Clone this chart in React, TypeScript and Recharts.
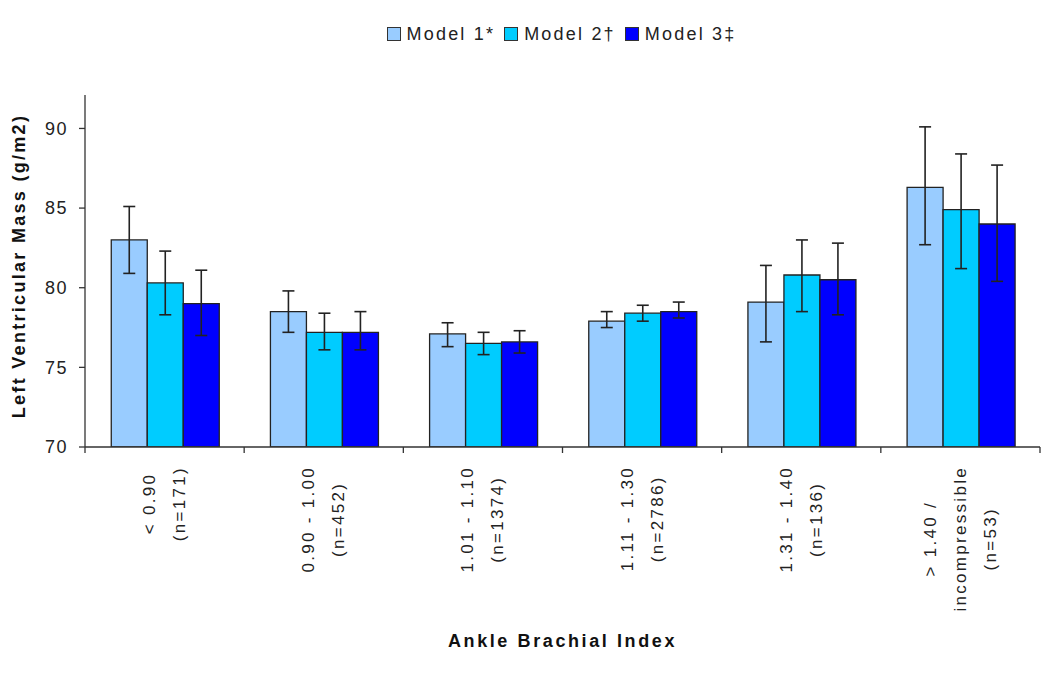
import React from 'react';
import { BarChart, Bar, XAxis, YAxis, ErrorBar, Label } from 'recharts';

// ABI groups (each line of a label on its own row)
const categories = [
  '< 0.90\n(n=171)',
  '0.90 - 1.00\n(n=452)',
  '1.01 - 1.10\n(n=1374)',
  '1.11 - 1.30\n(n=2786)',
  '1.31 - 1.40\n(n=136)',
  '> 1.40 /\nincompressible\n(n=53)',
];

const model1 = [83.0, 78.5, 77.1, 77.9, 79.1, 86.3];
const model1Low = [80.9, 77.2, 76.3, 77.5, 76.6, 82.7];
const model1High = [85.1, 79.8, 77.8, 78.5, 81.4, 90.1];

const model2 = [80.3, 77.2, 76.5, 78.4, 80.8, 84.9];
const model2Low = [78.3, 76.1, 75.8, 77.9, 78.5, 81.2];
const model2High = [82.3, 78.4, 77.2, 78.9, 83.0, 88.4];

const model3 = [79.0, 77.2, 76.6, 78.5, 80.5, 84.0];
const model3Low = [77.0, 76.1, 75.9, 78.1, 78.3, 80.4];
const model3High = [81.1, 78.5, 77.3, 79.1, 82.8, 87.7];

const yTicks = [70, 75, 80, 85, 90];

const series = [
  { key: 'm1', name: 'Model 1*', color: '#99CCFF' },
  { key: 'm2', name: 'Model 2\u2020', color: '#00CCFF' },
  { key: 'm3', name: 'Model 3\u2021', color: '#0000FF' },
];

const data = categories.map((c, i) => ({
  name: c,
  m1: model1[i],
  e1: [model1[i] - model1Low[i], model1High[i] - model1[i]],
  m2: model2[i],
  e2: [model2[i] - model2Low[i], model2High[i] - model2[i]],
  m3: model3[i],
  e3: [model3[i] - model3Low[i], model3High[i] - model3[i]],
}));

const W = 1050;
const H = 685;
const MARGIN = { top: 95, right: 10, left: 0, bottom: 0 };
const Y_W = 85;
const X_H = 238;
const PLOT_W = W - MARGIN.left - MARGIN.right - Y_W;
const BAND = PLOT_W / categories.length;

const FONT = "'Liberation Sans', Arial, sans-serif";
const TEXT = '#222';
const AXIS = '#333';

const TICK_SIZE = 17;
const TICK_LS = 2.3;

let ctx: CanvasRenderingContext2D | null = null;
function measure(s: string) {
  if (!ctx) ctx = document.createElement('canvas').getContext('2d');
  if (!ctx) return s.length * 9;
  ctx.font = `${TICK_SIZE}px ${FONT}`;
  return ctx.measureText(s).width + s.length * TICK_LS;
}

function CategoryTick(props: any) {
  const { x, y, payload, index } = props;
  const lines = String(payload.value).split('\n');
  const maxW = Math.max(...lines.map(measure));
  const yc = y + 19 + maxW / 2;
  const left = x - BAND / 2;
  return (
    <g>
      <line x1={left} y1={y} x2={left} y2={y + 6} stroke={AXIS} strokeWidth={1.3} />
      {index === categories.length - 1 && (
        <line x1={x + BAND / 2} y1={y} x2={x + BAND / 2} y2={y + 6} stroke={AXIS} strokeWidth={1.3} />
      )}
      {lines.map((l, i) => {
        const lx = x + (i - (lines.length - 1) / 2) * 30;
        return (
          <text
            key={i}
            x={lx}
            y={yc}
            transform={`rotate(-90, ${lx}, ${yc})`}
            textAnchor="middle"
            dominantBaseline="central"
            fontFamily={FONT}
            fontSize={TICK_SIZE}
            letterSpacing={TICK_LS}
            fill={TEXT}
          >
            {l}
          </text>
        );
      })}
    </g>
  );
}

function ChartLegend() {
  return (
    <div
      style={{
        position: 'absolute',
        top: 23,
        left: 0,
        width: W,
        display: 'flex',
        justifyContent: 'center',
        paddingLeft: 82,
        boxSizing: 'border-box',
        fontFamily: FONT,
        fontSize: 18,
        lineHeight: '22px',
        letterSpacing: 2.2,
        color: TEXT,
      }}
    >
      {series.map((s) => (
        <div key={s.key} style={{ display: 'flex', alignItems: 'center', marginRight: 9 }}>
          <span
            style={{
              display: 'inline-block',
              width: 12,
              height: 12,
              background: s.color,
              border: '1px solid #333',
              marginRight: 6,
            }}
          />
          <span>{s.name}</span>
        </div>
      ))}
    </div>
  );
}

export default function App() {
  return (
    <div style={{ position: 'absolute', left: 0, top: 0, width: W, height: H, background: '#fff' }}>
      <ChartLegend />
      <BarChart
        width={W}
        height={H}
        data={data}
        margin={MARGIN}
        barCategoryGap="16.5%"
        barGap={0}
      >
        <XAxis
          dataKey="name"
          height={X_H}
          interval={0}
          tickLine={false}
          tickSize={0}
          tickMargin={0}
          tick={<CategoryTick />}
          axisLine={{ stroke: AXIS, strokeWidth: 1.3 }}
        >
          <Label
            content={(p: any) => {
              const vb = p.viewBox;
              return (
                <text
                  x={vb.x + vb.width / 2}
                  y={647}
                  textAnchor="middle"
                  fontFamily={FONT}
                  fontWeight="bold"
                  fontSize={18}
                  letterSpacing={2.6}
                  fill="#111"
                >
                  Ankle Brachial Index
                </text>
              );
            }}
          />
        </XAxis>
        <YAxis
          width={Y_W}
          domain={[70, 92.1]}
          ticks={yTicks}
          allowDataOverflow
          tickSize={6}
          tickMargin={11}
          tick={{ fontFamily: FONT, fontSize: 18, fill: TEXT, letterSpacing: 1.5 }}
          tickLine={{ stroke: AXIS, strokeWidth: 1.3 }}
          axisLine={{ stroke: AXIS, strokeWidth: 1.3 }}
        >
          <Label
            content={(p: any) => {
              const vb = p.viewBox;
              const cx = 19;
              const cy = vb.y + vb.height / 2 - 5;
              return (
                <text
                  x={cx}
                  y={cy}
                  transform={`rotate(-90, ${cx}, ${cy})`}
                  textAnchor="middle"
                  dominantBaseline="central"
                  fontFamily={FONT}
                  fontWeight="bold"
                  fontSize={18}
                  letterSpacing={2.3}
                  fill="#111"
                >
                  Left Ventricular Mass (g/m2)
                </text>
              );
            }}
          />
        </YAxis>
        {series.map((s, i) => (
          <Bar
            key={s.key}
            dataKey={s.key}
            name={s.name}
            fill={s.color}
            stroke="#222"
            strokeWidth={1.3}
            isAnimationActive={false}
          >
            <ErrorBar dataKey={`e${i + 1}`} width={6} stroke="#222" strokeWidth={1.6} direction="y" />
          </Bar>
        ))}
      </BarChart>
    </div>
  );
}
